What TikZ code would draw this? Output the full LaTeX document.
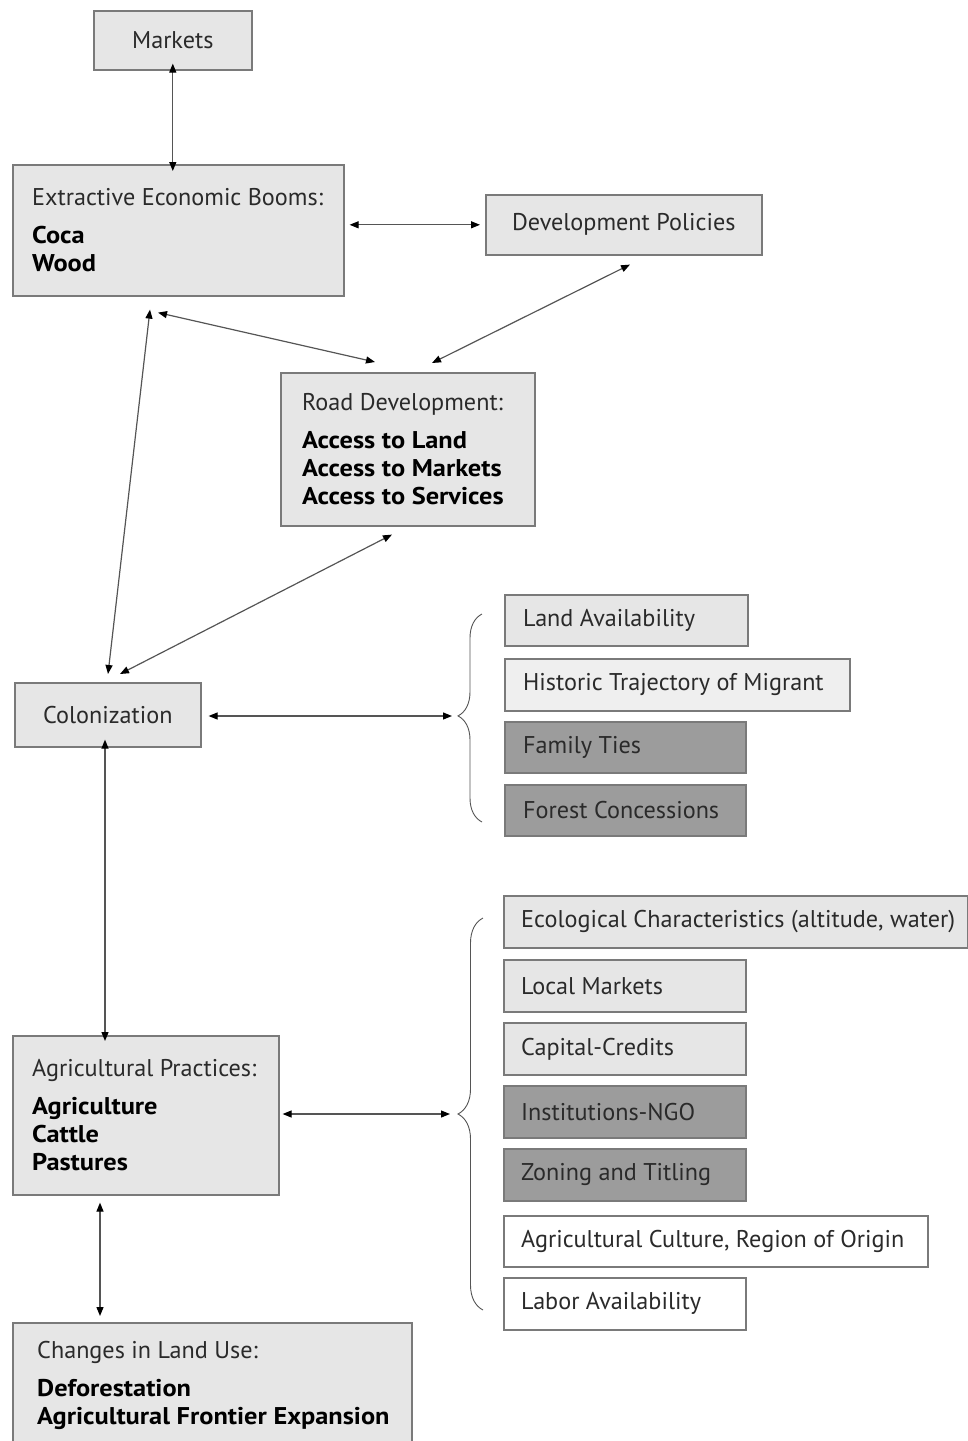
\documentclass[tikz,border=0pt]{standalone}
\usepackage{fontspec}
\setmainfont{PT Sans}[BoldFeatures={FakeStretch=1.09}]
\usetikzlibrary{arrows.meta,decorations.pathreplacing,calc}
\definecolor{lightfill}{HTML}{E6E6E6}
\definecolor{palefill}{HTML}{EFEFEF}
\definecolor{darkfill}{HTML}{9C9C9C}
\definecolor{bordergray}{HTML}{7A7A7A}
\definecolor{textgray}{HTML}{2A2A2A}
\definecolor{arrowgray}{HTML}{555555}
\newcommand\boldline[1]{\textbf{\color{black}#1}}
\begin{document}
\begin{tikzpicture}[x=1pt,y=-1pt,
  box/.style={draw=bordergray, line width=1.6pt, fill=lightfill, anchor=north west,
    inner sep=0pt, font=\fontsize{24.2}{28}\selectfont, text=textgray},
  pale/.style={box, fill=palefill},
  dark/.style={box, fill=darkfill},
  blank/.style={box, fill=white},
  lbl/.style={anchor=west, align=left, inner sep=0pt, font=\fontsize{24.2}{28}\selectfont, text=textgray},
  conn/.style={draw=arrowgray, line width=1.2pt,
    {Triangle[length=9pt,width=7pt,color=black]}-{Triangle[length=9pt,width=7pt,color=black]}},
  bracestyle/.style={draw=arrowgray, line width=0.9pt, decorate}
]
\useasboundingbox (0,0) rectangle (968,1441);

% main column
\node[box, minimum width=158pt, minimum height=59pt] (markets) at (93,10) {Markets};
\node[box, minimum width=331pt, minimum height=131pt] (extr) at (12,164) {};
\node[lbl] (extrT) at ([xshift=20pt]extr.west) {Extractive Economic Booms:\\[10pt]\boldline{Coca}\\\boldline{Wood}};
\node[box, minimum width=276pt, minimum height=60pt] (dev) at (485,194) {Development Policies};
\node[box, minimum width=254pt, minimum height=153pt] (road) at (280,372) {};
\node[lbl] (roadT) at ([xshift=22pt]road.west) {Road Development:\\[10pt]\boldline{Access to Land}\\\boldline{Access to Markets}\\\boldline{Access to Services}};
\node[box, minimum width=186pt, minimum height=64pt] (colon) at (14,682) {Colonization};
\node[box, minimum width=266pt, minimum height=159pt] (ag) at (12,1035) {};
\node[lbl] (agT) at ([xshift=20pt]ag.west) {Agricultural Practices:\\[10pt]\boldline{Agriculture}\\\boldline{Cattle}\\\boldline{Pastures}};
\node[box, minimum width=399pt, minimum height=130pt] (chg) at (12,1322) {};
\node[lbl, anchor=north west] (chgT) at ([shift={(25,19)}]chg.north west) {Changes in Land Use:\\[10pt]\boldline{Deforestation}\\\boldline{Agricultural Frontier Expansion}};

% factors of colonization
\node[box, minimum width=243pt, minimum height=51pt] (land) at (504,594) {};
\node[lbl] (landT) at ([xshift=19pt]land.west) {Land Availability};
\node[pale, minimum width=345pt, minimum height=52pt] (hist) at (504,658) {};
\node[lbl] (histT) at ([xshift=19pt]hist.west) {Historic Trajectory of Migrant};
\node[dark, minimum width=241pt, minimum height=51pt] (fam) at (504,721) {};
\node[lbl] (famT) at ([xshift=19pt]fam.west) {Family Ties};
\node[dark, minimum width=241pt, minimum height=51pt] (forest) at (504,784) {};
\node[lbl] (forestT) at ([xshift=19pt]forest.west) {Forest Concessions};

% factors of agricultural practices
\node[box, minimum width=464pt, minimum height=52pt] (eco) at (503,895) {};
\node[lbl] (ecoT) at ([xshift=18pt]eco.west) {Ecological Characteristics (altitude, water)};
\node[box, minimum width=242pt, minimum height=52pt] (local) at (503,959) {};
\node[lbl] (localT) at ([xshift=18pt]local.west) {Local Markets};
\node[box, minimum width=242pt, minimum height=52pt] (cap) at (503,1022) {};
\node[lbl] (capT) at ([xshift=18pt]cap.west) {Capital-Credits};
\node[dark, minimum width=242pt, minimum height=52pt] (inst) at (503,1085) {};
\node[lbl] (instT) at ([xshift=18pt]inst.west) {Institutions-NGO};
\node[dark, minimum width=242pt, minimum height=52pt] (zon) at (503,1148) {};
\node[lbl] (zonT) at ([xshift=18pt]zon.west) {Zoning and Titling};
\node[blank, minimum width=424pt, minimum height=51pt] (cult) at (503,1215) {};
\node[lbl] (cultT) at ([xshift=18pt]cult.west) {Agricultural Culture, Region of Origin};
\node[blank, minimum width=242pt, minimum height=52pt] (labor) at (503,1277) {};
\node[lbl] (laborT) at ([xshift=18pt]labor.west) {Labor Availability};

% braces
\draw[bracestyle, decoration={brace, amplitude=24pt, aspect=0.51}] (482,822) -- (482,614);
\draw[bracestyle, decoration={brace, amplitude=25pt, aspect=0.5}] (483,1310) -- (483,918);
\coordinate (b1) at (452,716);
\coordinate (b2) at (450,1114);

% connectors
\draw[conn] ([yshift=7pt]markets.south) -- ([yshift=-7pt]markets.south |- extr.north);
\draw[conn] ([xshift=5pt]dev.west -| extr.east) -- ([xshift=-5pt]dev.west);
\draw[conn] ([shift={(146,16)}]extr.south west) -- ([shift={(95,-10)}]road.north west);
\draw[conn] ([shift={(145,9)}]dev.south west) -- ([shift={(152,-9)}]road.north west);
\draw[conn] ([shift={(138,13)}]extr.south west) -- ([shift={(94,-8)}]colon.north west);
\draw[conn] ([shift={(112,8)}]road.south west) -- ([shift={(106,-8)}]colon.north west);
\draw[conn] ([xshift=7pt]colon.east |- b1) -- (b1);
\draw[conn] ([yshift=8pt]colon.south west -| 105,0) -- ([yshift=-6pt]ag.north west -| 105,0);
\draw[conn] ([xshift=3pt]ag.east |- b2) -- (b2);
\draw[conn] ([shift={(88,7)}]ag.south west) -- ([shift={(88,-6)}]chg.north west);
\end{tikzpicture}
\end{document}
